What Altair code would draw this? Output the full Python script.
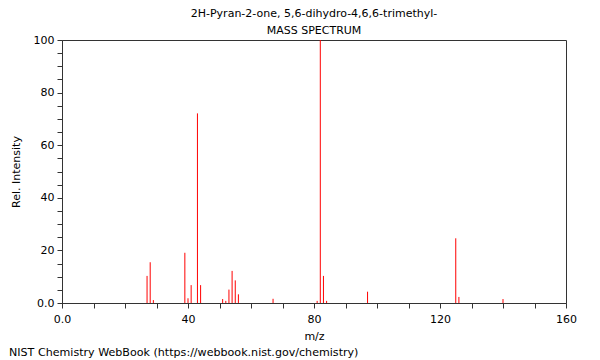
import altair as alt
import pandas as pd

mz = [27, 28, 29, 39, 40, 41, 43, 44, 51, 52, 53, 54, 55, 56, 67, 81, 82, 83, 84, 97, 125, 126, 140]
intensity = [10.3, 15.5, 1.1, 19.1, 1.8, 6.8, 72.1, 6.8, 1.5, 0.8, 5.1, 12.2, 8.6, 3.3, 1.6, 0.8, 100.0, 10.3, 0.8, 4.3, 24.6, 2.3, 1.5]

title_lines = ["2H-Pyran-2-one, 5,6-dihydro-4,6,6-trimethyl-", "MASS SPECTRUM"]
footer = "NIST Chemistry WebBook (https://webbook.nist.gov/chemistry)"
x_ticks = list(range(0, 161, 10))
y_ticks = list(range(0, 101, 5))

df = pd.DataFrame({"mz": mz, "intensity": intensity, "base": [0] * len(mz)})

FONT = "DejaVu Sans"
AX = "#333333"

x_axis = alt.Axis(
    values=x_ticks,
    labelExpr="datum.value % 40 == 0 ? (datum.value == 0 ? '0.0' : datum.label) : ''",
    grid=False, tickSize=5, tickColor=AX, domainColor=AX,
    labelFont=FONT, labelFontSize=11, labelColor="#000",
    titleFont=FONT, titleFontSize=11, titleFontWeight="normal", titleColor="#000",
    labelPadding=5, titlePadding=6, labelFlush=False,
)
y_axis = alt.Axis(
    values=y_ticks,
    labelExpr="datum.value % 20 == 0 ? (datum.value == 0 ? '0.0' : datum.label) : ''",
    grid=False, tickSize=5, tickColor=AX, domainColor=AX,
    labelFont=FONT, labelFontSize=11, labelColor="#000",
    titleFont=FONT, titleFontSize=11, titleFontWeight="normal", titleColor="#000",
    labelPadding=3, titlePadding=12, labelFlush=False,
)

bars = alt.Chart(df).mark_rule(color="#ff0000", strokeWidth=1).encode(
    x=alt.X("mz:Q", title="m/z", scale=alt.Scale(domain=[0, 160], nice=False), axis=x_axis),
    y=alt.Y("intensity:Q", title="Rel. Intensity", scale=alt.Scale(domain=[0, 100], nice=False), axis=y_axis),
    y2="base:Q",
)

foot = alt.Chart(pd.DataFrame({"t": [footer]})).mark_text(
    align="left", baseline="middle", font=FONT, fontSize=11.1, color="#000", clip=False
).encode(text="t:N", x=alt.value(-53), y=alt.value(313))

chart = alt.layer(bars, foot).properties(
    width=504, height=263,
    title=alt.TitleParams(text=title_lines, font=FONT, fontSize=11, fontWeight="normal",
                          color="#000", anchor="middle", lineHeight=17, offset=-2),
    padding={"left": 54, "top": 32, "right": 26, "bottom": 58},
    autosize=alt.AutoSizeParams(type="none"),
).configure_view(stroke=AX, strokeWidth=1)

chart.save("out.html", embed_options={"renderer": "svg", "actions": False})
